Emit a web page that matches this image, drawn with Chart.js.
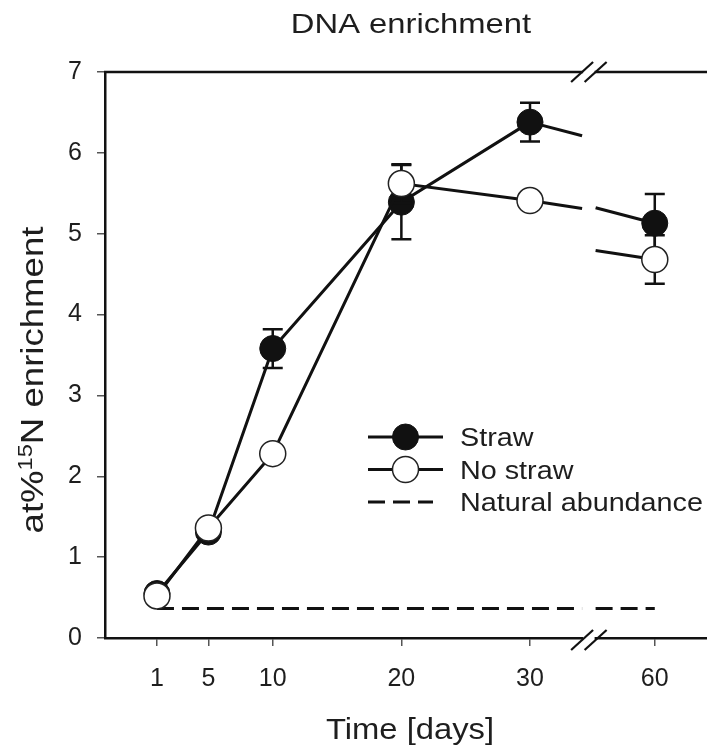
<!DOCTYPE html>
<html>
<head>
<meta charset="utf-8">
<title>DNA enrichment</title>
<script src="https://cdn.jsdelivr.net/npm/chart.js@4.4.1/dist/chart.umd.min.js"></script>
<style>
  html, body { margin: 0; padding: 0; background: #fff; }
  canvas { display: block; }
</style>
</head>
<body>
<canvas id="dnaChart" width="707" height="749"></canvas>
<script>
// sampling days and mean at%15N of the DNA, with standard errors
const days = [1, 5, 10, 20, 30, 60];
const straw = [0.55, 1.31, 3.58, 5.39, 6.38, 5.13];
const strawErr = [0, 0, 0.24, 0.46, 0.24, 0.36];
const noStraw = [0.52, 1.36, 2.28, 5.62, 5.41, 4.68];
const noStrawErr = [0, 0, 0, 0.24, 0, 0.30];
// natural 15N abundance reference line
const naturalDays = [1, 60];
const natural = [0.366, 0.366];

const xTickLabels = ["1", "5", "10", "20", "30", "60"];
const yTicks = [0, 1, 2, 3, 4, 5, 6, 7];

// the time axis is cut between BREAK_LO and BREAK_HI days
const BREAK_LO = 34.05;
const BREAK_HI = 55.4;
const SHIFT = 20.3;
const pos = (d) => (d > BREAK_LO ? d - SHIFT : d);

const FONT = '"Liberation Sans", Arial, sans-serif';
const INK = "#111";
const TEXT = "#1e1e1e";

const points = (xs, ys) => xs.map((d, i) => ({ x: pos(d), y: ys[i] }));

// hide the straight segment that would jump across the cut
const skipBreak = (ctx) =>
  ctx.p0.parsed.x <= BREAK_LO && ctx.p1.parsed.x >= BREAK_HI - SHIFT ? "rgba(0,0,0,0)" : undefined;

function stretchedText(ctx, text, x, y, size, sx, align) {
  ctx.save();
  ctx.font = size + "px " + FONT;
  ctx.fillStyle = TEXT;
  ctx.textAlign = align || "left";
  ctx.textBaseline = "alphabetic";
  ctx.translate(x, y);
  ctx.scale(sx, 1);
  ctx.fillText(text, 0, 0);
  ctx.restore();
}

function drawYTitle(ctx) {
  const parts = [["at%", 31, 0], ["15", 20, -11], ["N enrichment", 31, 0]];
  ctx.save();
  ctx.translate(43, 380);
  ctx.rotate(-Math.PI / 2);
  ctx.scale(1.18, 1);
  ctx.fillStyle = TEXT;
  ctx.textBaseline = "alphabetic";
  let w = 0;
  for (const [t, s] of parts) {
    ctx.font = s + "px " + FONT;
    w += ctx.measureText(t).width;
  }
  let x = -w / 2;
  for (const [t, s, dy] of parts) {
    ctx.font = s + "px " + FONT;
    ctx.fillText(t, x, dy);
    x += ctx.measureText(t).width;
  }
  ctx.restore();
}

function slash(ctx, cx, cy) {
  ctx.beginPath();
  ctx.moveTo(cx - 11, cy + 10);
  ctx.lineTo(cx + 11, cy - 10);
  ctx.stroke();
}

// error bars and the two pieces of the line on either side of the cut
const seriesExtras = {
  id: "seriesExtras",
  beforeDatasetDraw(chart, args) {
    const ds = chart.data.datasets[args.index];
    const { ctx, scales: { x, y } } = chart;
    ctx.save();
    ctx.strokeStyle = INK;
    ctx.lineCap = "butt";

    // connectors at the axis break
    ctx.lineWidth = ds.borderWidth;
    ctx.setLineDash(ds.borderDash || []);
    for (let i = 0; i < ds.days.length - 1; i++) {
      const d0 = ds.days[i], d1 = ds.days[i + 1];
      if (d0 <= BREAK_LO && d1 >= BREAK_HI) {
        const v0 = ds.values[i], v1 = ds.values[i + 1];
        const at = (d) => v0 + (v1 - v0) * (d - d0) / (d1 - d0);
        ctx.beginPath();
        ctx.moveTo(x.getPixelForValue(pos(d0)), y.getPixelForValue(v0));
        ctx.lineTo(x.getPixelForValue(BREAK_LO), y.getPixelForValue(at(BREAK_LO)));
        ctx.stroke();
        ctx.beginPath();
        ctx.moveTo(x.getPixelForValue(pos(BREAK_HI)), y.getPixelForValue(at(BREAK_HI)));
        ctx.lineTo(x.getPixelForValue(pos(d1)), y.getPixelForValue(v1));
        ctx.stroke();
      }
    }
    ctx.setLineDash([]);

    if (ds.errors) {
      ctx.lineWidth = 2.5;
      ds.days.forEach((d, i) => {
        const e = ds.errors[i];
        if (!e) return;
        const px = x.getPixelForValue(pos(d));
        const top = y.getPixelForValue(ds.values[i] + e);
        const bot = y.getPixelForValue(ds.values[i] - e);
        ctx.beginPath();
        ctx.moveTo(px, top);
        ctx.lineTo(px, bot);
        ctx.moveTo(px - 10, top);
        ctx.lineTo(px + 10, top);
        ctx.moveTo(px - 10, bot);
        ctx.lineTo(px + 10, bot);
        ctx.stroke();
      });
    }
    ctx.restore();
  },
};

// top frame line, break marks, titles and legend
const frame = {
  id: "frame",
  afterDraw(chart) {
    const { ctx, chartArea: a, scales: { x } } = chart;
    const bx0 = x.getPixelForValue(BREAK_LO);
    const bx1 = x.getPixelForValue(pos(BREAK_HI));
    ctx.save();
    ctx.strokeStyle = INK;
    ctx.lineWidth = 2.5;
    ctx.beginPath();
    ctx.moveTo(a.left - 1, a.top);
    ctx.lineTo(a.right, a.top);
    ctx.stroke();

    ctx.fillStyle = "#fff";
    ctx.fillRect(bx0 + 1, a.top - 3, bx1 - bx0 - 2, 6);
    ctx.fillRect(bx0 + 1, a.bottom - 3, bx1 - bx0 - 2, 6);
    ctx.lineWidth = 2.2;
    slash(ctx, bx0, a.top);
    slash(ctx, bx1, a.top);
    slash(ctx, bx0, a.bottom + 2);
    slash(ctx, bx1, a.bottom + 2);

    stretchedText(ctx, "DNA enrichment", 411, 33, 28, 1.17, "center");
    stretchedText(ctx, "Time [days]", 410, 739, 29, 1.13, "center");
    drawYTitle(ctx);

    // legend
    const lx0 = 368, lx1 = 443, ly0 = 437, rowH = 32.5;
    chart.data.datasets.forEach((ds, i) => {
      const ly = ly0 + i * rowH;
      ctx.strokeStyle = INK;
      ctx.lineWidth = ds.borderWidth;
      ctx.setLineDash(ds.borderDash || []);
      ctx.beginPath();
      ctx.moveTo(lx0, ly);
      ctx.lineTo(ds.pointRadius ? lx1 : lx1 - 10, ly);
      ctx.stroke();
      ctx.setLineDash([]);
      if (ds.pointRadius) {
        ctx.beginPath();
        ctx.arc((lx0 + lx1) / 2, ly, ds.pointRadius, 0, Math.PI * 2);
        ctx.fillStyle = ds.pointBackgroundColor;
        ctx.fill();
        ctx.lineWidth = ds.pointBorderWidth;
        ctx.strokeStyle = ds.pointBorderColor;
        ctx.stroke();
      }
      stretchedText(ctx, ds.label, 460, ly + 9, 25, 1.15, "left");
    });
    ctx.restore();
  },
};

new Chart(document.getElementById("dnaChart"), {
  type: "line",
  data: {
    datasets: [
      {
        label: "Straw",
        data: points(days, straw),
        days: days,
        values: straw,
        errors: strawErr,
        borderColor: INK,
        borderWidth: 3,
        pointRadius: 13,
        pointBackgroundColor: INK,
        pointBorderColor: INK,
        pointBorderWidth: 1,
        order: 2,
        segment: { borderColor: skipBreak },
      },
      {
        label: "No straw",
        data: points(days, noStraw),
        days: days,
        values: noStraw,
        errors: noStrawErr,
        borderColor: INK,
        borderWidth: 3,
        pointRadius: 13,
        pointBackgroundColor: "#fff",
        pointBorderColor: "#222",
        pointBorderWidth: 1.5,
        order: 1,
        segment: { borderColor: skipBreak },
      },
      {
        label: "Natural abundance",
        data: points(naturalDays, natural),
        days: naturalDays,
        values: natural,
        borderColor: INK,
        borderWidth: 3,
        borderDash: [17, 8],
        pointRadius: 0,
        order: 3,
        segment: { borderColor: skipBreak },
      },
    ],
  },
  options: {
    responsive: false,
    animation: false,
    devicePixelRatio: 1,
    layout: { autoPadding: false, padding: { top: 72, right: 0, bottom: 0, left: 0 } },
    plugins: {
      legend: { display: false },
      tooltip: { enabled: false },
    },
    scales: {
      x: {
        type: "linear",
        min: -3.04,
        max: 43.76,
        afterBuildTicks: (scale) => {
          scale.ticks = days.map((d) => ({ value: pos(d) }));
        },
        afterFit: (scale) => {
          scale.height = 111;
          scale.paddingLeft = 0;
          scale.paddingRight = 0;
        },
        border: { color: INK, width: 2.5 },
        grid: { drawOnChartArea: false, tickLength: 8, color: "#555", lineWidth: 1.5 },
        ticks: {
          autoSkip: false,
          maxRotation: 0,
          padding: 18,
          color: TEXT,
          font: { family: FONT, size: 25 },
          callback: (value, index) => xTickLabels[index],
        },
      },
      y: {
        min: 0,
        max: 7,
        afterBuildTicks: (scale) => {
          scale.ticks = yTicks.map((v) => ({ value: v }));
        },
        afterFit: (scale) => {
          scale.width = 105;
          scale.paddingTop = 0;
          scale.paddingBottom = 0;
        },
        border: { color: INK, width: 2.5 },
        grid: { drawOnChartArea: false, tickLength: 8, color: "#555", lineWidth: 1.5 },
        ticks: {
          padding: 15,
          color: TEXT,
          font: { family: FONT, size: 25 },
        },
      },
    },
  },
  plugins: [seriesExtras, frame],
});
</script>
</body>
</html>
